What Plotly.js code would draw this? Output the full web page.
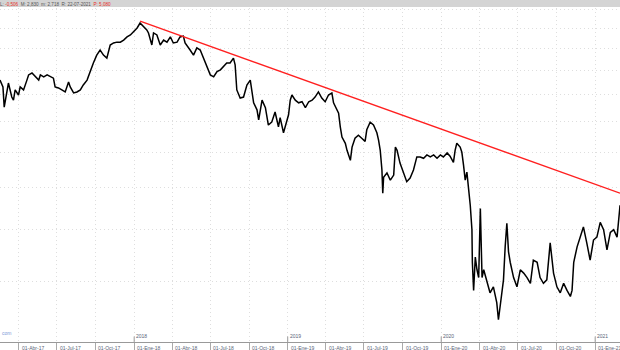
<!DOCTYPE html>
<html>
<head>
<meta charset="utf-8">
<script src="https://cdn.plot.ly/plotly-3.0.1.min.js"></script>
<style>html,body{margin:0;padding:0;background:#fff;}#chart{width:620px;height:350px;}</style>
</head>
<body>
<div id="chart"></div>
<script>
// Price series (dates, close values)
const dates = [
'2017-02-16','2017-02-23','2017-02-26','2017-03-04','2017-03-08','2017-03-16','2017-03-20','2017-03-24','2017-04-01','2017-04-05',
'2017-04-13','2017-04-21','2017-04-25','2017-05-03','2017-05-11','2017-05-19','2017-05-23','2017-05-31','2017-06-08','2017-06-15',
'2017-06-23','2017-06-27','2017-07-05','2017-07-13','2017-07-21','2017-07-29','2017-08-02','2017-08-10','2017-08-18','2017-08-26',
'2017-09-02','2017-09-11','2017-09-18','2017-09-26','2017-10-04','2017-10-12','2017-10-20','2017-10-28','2017-11-05','2017-11-13',
'2017-11-21','2017-11-29','2017-12-07','2017-12-15','2017-12-23','2017-12-30','2018-01-08','2018-01-15','2018-01-23','2018-01-31',
'2018-02-04','2018-02-08','2018-02-12','2018-02-16','2018-02-24','2018-03-04','2018-03-12','2018-03-20','2018-03-28','2018-04-04',
'2018-04-13','2018-04-20','2018-04-28','2018-05-02','2018-05-06','2018-05-14','2018-05-22','2018-05-30','2018-06-07','2018-06-15',
'2018-06-23','2018-07-01','2018-07-09','2018-07-17','2018-07-25','2018-08-01','2018-08-09','2018-08-17','2018-08-25','2018-08-29',
'2018-09-02','2018-09-10','2018-09-18','2018-09-26','2018-10-04','2018-10-12','2018-10-20','2018-10-24','2018-11-01','2018-11-09',
'2018-11-16','2018-11-24','2018-12-02','2018-12-10','2018-12-14','2018-12-22','2018-12-26','2019-01-03','2019-01-07','2019-01-11',
'2019-01-19','2019-01-27','2019-02-04','2019-02-12','2019-02-20','2019-02-28','2019-03-07','2019-03-15','2019-03-23','2019-03-31',
'2019-04-08','2019-04-16','2019-04-20','2019-04-28','2019-05-02','2019-05-06','2019-05-10','2019-05-18','2019-05-22','2019-05-30',
'2019-06-03','2019-06-10','2019-06-18','2019-06-26','2019-07-04','2019-07-08','2019-07-16','2019-07-24','2019-08-01','2019-08-05',
'2019-08-09','2019-08-13','2019-08-15','2019-08-17','2019-08-25','2019-09-02','2019-09-10','2019-09-14','2019-09-18','2019-09-25',
'2019-10-03','2019-10-11','2019-10-19','2019-10-27','2019-11-04','2019-11-12','2019-11-20','2019-11-28','2019-12-06','2019-12-14',
'2019-12-22','2019-12-30','2020-01-06','2020-01-15','2020-01-22','2020-01-30','2020-02-03','2020-02-07','2020-02-15','2020-02-19',
'2020-02-23','2020-02-27','2020-03-02','2020-03-06','2020-03-10','2020-03-14','2020-03-15','2020-03-18','2020-03-22','2020-03-26',
'2020-03-30','2020-04-03','2020-04-07','2020-04-11','2020-04-19','2020-04-26','2020-05-04','2020-05-12','2020-05-16','2020-05-20',
'2020-05-28','2020-06-01','2020-06-05','2020-06-09','2020-06-13','2020-06-21','2020-06-29','2020-07-07','2020-07-15','2020-07-23',
'2020-07-31','2020-08-07','2020-08-16','2020-08-23','2020-08-31','2020-09-08','2020-09-16','2020-09-24','2020-10-02','2020-10-10',
'2020-10-18','2020-10-26','2020-11-03','2020-11-07','2020-11-11','2020-11-19','2020-11-26','2020-12-04','2020-12-12','2020-12-20',
'2020-12-28','2021-01-05','2021-01-13','2021-01-21','2021-01-29','2021-02-06','2021-02-14','2021-02-22','2021-02-28','2021-03-01'
];
const prices = [
4.79,4.65,4.26,4.59,4.73,4.45,4.39,4.59,4.49,4.65,
4.59,4.79,4.90,4.94,4.86,4.79,4.90,4.86,4.90,4.86,
4.83,4.65,4.63,4.59,4.55,4.75,4.65,4.53,4.55,4.59,
4.69,4.79,4.97,5.16,5.34,5.46,5.34,5.27,5.58,5.63,
5.65,5.65,5.70,5.78,5.83,5.91,6.01,6.14,6.04,5.96,
5.88,5.75,5.58,5.88,5.83,5.58,5.70,5.65,5.78,5.63,
5.65,5.78,5.80,5.63,5.58,5.46,5.34,5.51,5.46,5.27,
5.07,4.90,4.86,4.97,5.01,5.07,5.16,5.16,5.27,5.12,
4.59,4.43,4.45,4.69,4.79,4.34,4.21,4.03,4.39,4.25,
3.94,3.99,4.17,3.91,4.07,3.81,3.91,4.12,4.39,4.49,
4.39,4.34,4.36,4.25,4.36,4.39,4.45,4.55,4.43,4.36,
4.49,4.53,4.34,4.21,4.15,3.91,3.74,3.64,3.53,3.38,
3.58,3.72,3.77,3.72,3.67,3.86,3.99,3.94,3.81,3.69,
3.53,3.24,2.93,3.14,3.20,3.10,3.17,3.58,3.53,3.34,
3.20,3.08,3.13,3.24,3.43,3.43,3.41,3.46,3.43,3.46,
3.41,3.46,3.43,3.49,3.44,3.35,3.53,3.64,3.58,3.50,
3.31,3.10,3.21,3.02,2.78,2.50,2.17,1.92,2.22,2.10,
2.03,2.74,2.03,2.10,1.98,1.90,1.95,1.82,1.69,1.79,
2.01,2.32,2.57,2.27,2.17,2.03,1.95,2.10,2.07,2.03,
1.98,2.19,2.17,2.03,1.98,2.01,2.36,2.07,1.95,1.90,
1.98,1.92,1.87,1.92,2.17,2.32,2.42,2.53,2.36,2.19,
2.39,2.42,2.58,2.50,2.29,2.47,2.50,2.42,2.72,2.78
];
// Resistance trendline end points
const trendDates = ['2018-01-15','2021-03-01'];
const trendValues = [6.19, 2.93];
// Axis ticks
const gridValues = [2,2.5,3,3.5,4,4.5,5,5.5,6,6.5];
const tickDates = ['2017-04-01','2017-07-01','2017-10-01','2018-01-01','2018-04-01','2018-07-01','2018-10-01','2019-01-01',
  '2019-04-01','2019-07-01','2019-10-01','2020-01-01','2020-04-01','2020-07-01','2020-10-01','2021-01-01'];
const tickLabels = ['01-Abr-17','01-Jul-17','01-Oct-17','01-Ene-18','01-Abr-18','01-Jul-18','01-Oct-18','01-Ene-19',
  '01-Abr-19','01-Jul-19','01-Oct-19','01-Ene-20','01-Abr-20','01-Jul-20','01-Oct-20','01-Ene-21'];
const yearDates = ['2018-01-01','2019-01-01','2020-01-01','2021-01-01'];
const yearLabels = ['2018','2019','2020','2021'];
const headerText = 'L: <span style="color:#e8302a">-0,506</span>  M: 2,830  m: 2,718  R: 22-07-2021  <span style="color:#e8302a">P: 5,080</span>';

const lblFont = {family:'Liberation Sans, Arial, sans-serif', size:5, color:'#5a6478'};
const annotations = [];
tickDates.forEach((d,i)=>annotations.push({x:d, xref:'x', y:0, yref:'paper', yanchor:'top', xanchor:'left',
  xshift:1, yshift:-1, text:tickLabels[i], showarrow:false, font:lblFont}));
yearDates.forEach((d,i)=>annotations.push({x:d, xref:'x', y:0, yref:'paper', yanchor:'bottom', xanchor:'left',
  xshift:0, yshift:1, text:yearLabels[i], showarrow:false, font:lblFont}));
annotations.push({x:0, xref:'paper', y:0.012, yref:'paper', xanchor:'left', yanchor:'bottom', text:'com',
  showarrow:false, font:{family:'Liberation Sans, Arial, sans-serif', size:5, color:'#7d9ad8'}});
annotations.push({x:0, xref:'paper', y:1, yref:'paper', xanchor:'left', yanchor:'top', yshift:0, xshift:-2,
  text:headerText, showarrow:false, font:{family:'Liberation Sans, Arial, sans-serif', size:4.6, color:'#555'}});

const shapes = [{type:'rect', xref:'paper', yref:'paper', x0:0, x1:1, y0:1-7/342, y1:1,
  fillcolor:'#d4d4d4', line:{width:0}, layer:'above'}];
yearDates.forEach(d=>shapes.push({type:'line', xref:'x', yref:'paper', x0:d, x1:d, y0:0, y1:0.016,
  line:{color:'#999', width:1}}));

const data = [
  {type:'scatter', mode:'lines', x:dates, y:prices, line:{color:'#000', width:1.5}, hoverinfo:'skip'},
  {type:'scatter', mode:'lines', x:trendDates, y:trendValues, line:{color:'#ff2020', width:1.4}, hoverinfo:'skip'}
];
const layout = {
  width:620, height:350,
  margin:{l:0, r:0, t:0, b:8, pad:0},
  paper_bgcolor:'#ffffff', plot_bgcolor:'#ffffff',
  showlegend:false,
  xaxis:{type:'date', range:['2017-02-16','2021-03-01'], tickmode:'array', tickvals:tickDates,
    showticklabels:false, ticks:'outside', ticklen:9, tickcolor:'#aaa', tickwidth:1,
    showgrid:true, gridcolor:'#dedede', griddash:'1px,3px', gridwidth:1,
    showline:true, linecolor:'#999', linewidth:1, zeroline:false, fixedrange:true},
  yaxis:{type:'log', range:[0.18585, 0.83162], tickmode:'array', tickvals:gridValues,
    showticklabels:false, ticks:'', showgrid:true, gridcolor:'#dedede', griddash:'1px,3px', gridwidth:1,
    showline:false, zeroline:false, fixedrange:true},
  annotations:annotations,
  shapes:shapes
};
Plotly.newPlot('chart', data, layout, {displayModeBar:false, staticPlot:true});
</script>
</body>
</html>
